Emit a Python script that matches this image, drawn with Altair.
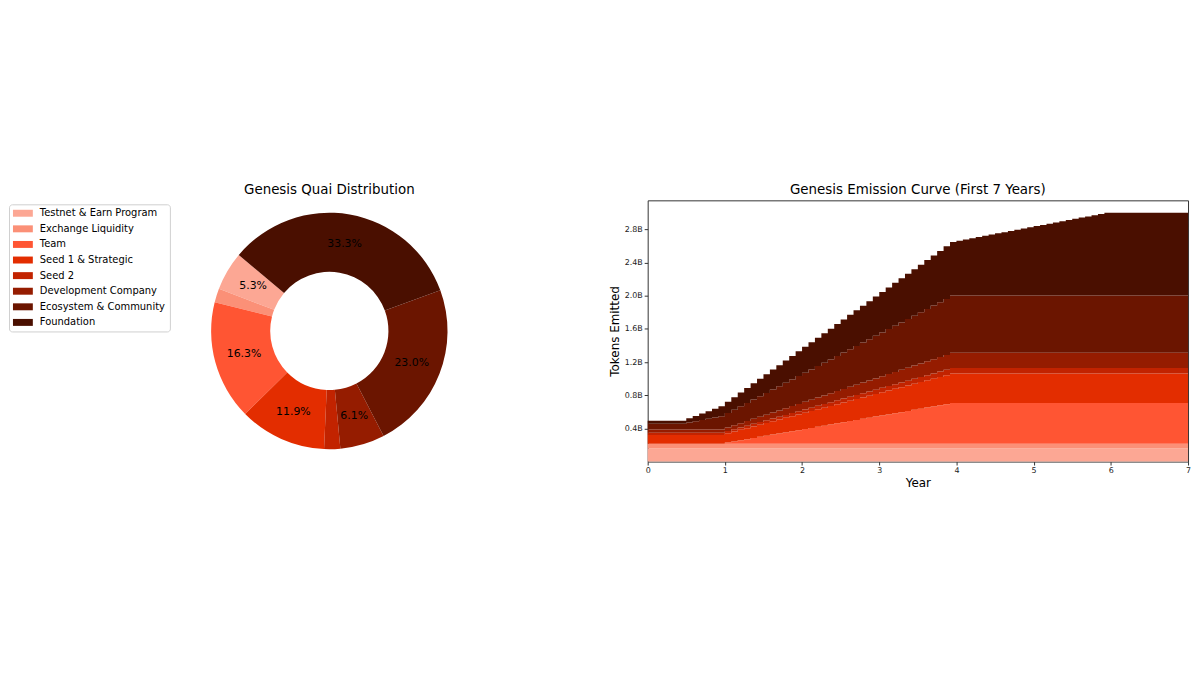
import altair as alt
import pandas as pd

FONT = "DejaVu Sans"

# genesis allocation (legend order, bottom of the stack first)
names = [
    "Testnet & Earn Program",
    "Exchange Liquidity",
    "Team",
    "Seed 1 & Strategic",
    "Seed 2",
    "Development Company",
    "Ecosystem & Community",
    "Foundation",
]
shares = [5.3, 1.9, 16.3, 11.9, 2.2, 6.1, 23.0, 33.3]
colors = ["#FCA794", "#FB9077", "#FF5533", "#E32D00", "#C22300", "#951C00", "#6B1500", "#4A0F00"]

# cumulative tokens emitted per layer, in millions, one value per month (0..84)
months = list(range(85))
testnet = [159] * 85
exchange = [57] * 85
team = [0] * 12 + [
    14, 27, 41, 54, 68, 82, 95, 109, 122, 136, 149, 163,
    177, 190, 204, 217, 231, 245, 258, 272, 285, 299, 312, 326,
    340, 353, 367, 380, 394, 408, 421, 435, 448, 462, 475, 489,
] + [489] * 37
seed1 = [105] * 12 + [
    112, 119, 126, 133, 140, 147, 154, 161, 168, 175, 182, 189,
    196, 203, 210, 217, 224, 231, 238, 245, 252, 259, 266, 273,
    280, 287, 294, 301, 308, 315, 322, 329, 336, 343, 350, 357,
] + [357] * 37
seed2 = [25] * 12 + [
    26, 27, 28, 30, 31, 32, 33, 34, 35, 36, 38, 39,
    40, 41, 42, 43, 44, 46, 47, 48, 49, 50, 51, 52,
    53, 55, 56, 57, 58, 59, 60, 61, 63, 64, 65, 66,
] + [66] * 37
dev = [40] * 12 + [
    44, 48, 52, 56, 60, 64, 68, 72, 76, 80, 84, 88,
    92, 96, 100, 104, 108, 112, 116, 120, 124, 128, 132, 136,
    140, 144, 148, 152, 156, 160, 164, 168, 172, 176, 180, 183,
] + [183] * 37
eco = [70] * 6 + [
    85, 100, 114, 129, 144, 159, 173, 188, 203, 218, 232, 247,
    262, 277, 291, 306, 321, 336, 350, 365, 380, 395, 409, 424,
    439, 454, 469, 483, 498, 513, 528, 542, 557, 572, 587, 601,
    616, 631, 646, 660, 675, 690,
] + [690] * 37
foundation = [35] * 6 + [
    50, 64, 79, 93, 108, 123, 137, 152, 166, 181, 196, 210,
    225, 240, 254, 269, 283, 298, 313, 327, 342, 356, 371, 386,
    400, 415, 429, 444, 459, 473, 488, 502, 517, 532, 546, 561,
    575, 590, 605, 619, 634, 648, 663, 678, 692, 707, 722, 736,
    751, 765, 780, 795, 809, 824, 838, 853, 868, 882, 897, 911,
    926, 941, 955, 970, 984, 999,
] + [999] * 13
layers = [testnet, exchange, team, seed1, seed2, dev, eco, foundation]

year_ticks = [0, 1, 2, 3, 4, 5, 6, 7]
token_ticks = [400, 800, 1200, 1600, 2000, 2400, 2800]

pie_df = pd.DataFrame({"name": names, "share": shares, "idx": range(len(names))})
pie_df["label"] = [f"{s:.1f}%" if s > 5 else "" for s in shares]

rows = []
for i, (name, values) in enumerate(zip(names, layers)):
    for m, v in zip(months, values):
        rows.append({"year": m / 12, "tokens": v, "name": name, "idx": i})
area_df = pd.DataFrame(rows)

palette = alt.Scale(domain=names, range=colors)

base = alt.Chart(pie_df).encode(
    theta=alt.Theta("share:Q", stack=True, scale=alt.Scale(range=[5.4105, 11.6937])),
    order=alt.Order("idx:Q", sort="descending"),
)
arcs = base.mark_arc(innerRadius=59.5, outerRadius=119).encode(
    color=alt.Color(
        "name:N",
        scale=palette,
        title=None,
        legend=alt.Legend(
            orient="none",
            legendX=-191,
            legendY=4,
            symbolType="M-2,-0.7L2,-0.7L2,0.7L-2,0.7Z",
            symbolSize=100,
            symbolOffset=5,
            symbolStrokeWidth=0,
            symbolOpacity=1,
            labelOffset=12,
            labelFont=FONT,
            labelFontSize=10,
            labelColor="black",
            rowPadding=5.7,
            padding=4,
            strokeColor="#d0d0d0",
            fillColor="white",
            cornerRadius=3,
        ),
    )
)
labels = base.mark_text(radius=89, font=FONT, fontSize=11, color="black").encode(
    text="label:N"
)
pie = (arcs + labels).properties(
    width=263, height=263, title="Genesis Quai Distribution"
)

area = (
    alt.Chart(area_df)
    .mark_area(interpolate="step-after")
    .encode(
        x=alt.X(
            "year:Q",
            scale=alt.Scale(domain=[0, 7], nice=False),
            axis=alt.Axis(values=year_ticks, format="d", title="Year", labelFlush=False, titlePadding=3),
        ),
        y=alt.Y(
            "tokens:Q",
            stack="zero",
            scale=alt.Scale(domain=[0, 3150], nice=False),
            axis=alt.Axis(
                values=token_ticks,
                labelExpr="format(datum.value / 1000, '.1f') + 'B'",
                title="Tokens Emitted",
                titlePadding=3,
            ),
        ),
        color=alt.Color("name:N", scale=palette, legend=None),
        order=alt.Order("idx:Q"),
    )
    .properties(
        width=544,
        height=263,
        title="Genesis Emission Curve (First 7 Years)",
        view=alt.ViewBackground(stroke="#333333", strokeWidth=1),
    )
)

chart = (
    alt.hconcat(pie, area, spacing=148)
    .resolve_scale(color="independent")
    .properties(padding={"left": 0, "top": 174, "right": 0, "bottom": 0})
    .configure_view(stroke=None)
    .configure_title(font=FONT, fontSize=13.5, fontWeight="normal", color="black", offset=4)
    .configure_axis(
        labelFont=FONT,
        labelFontSize=8,
        labelColor="#222222",
        titleFont=FONT,
        titleFontSize=12,
        titleFontWeight="normal",
        titleColor="black",
        tickColor="#333333",
        tickSize=3.5,
        labelPadding=2,
        domain=False,
        grid=False,
    )
)

chart.save("out.html", embed_options={"renderer": "svg", "actions": False})
